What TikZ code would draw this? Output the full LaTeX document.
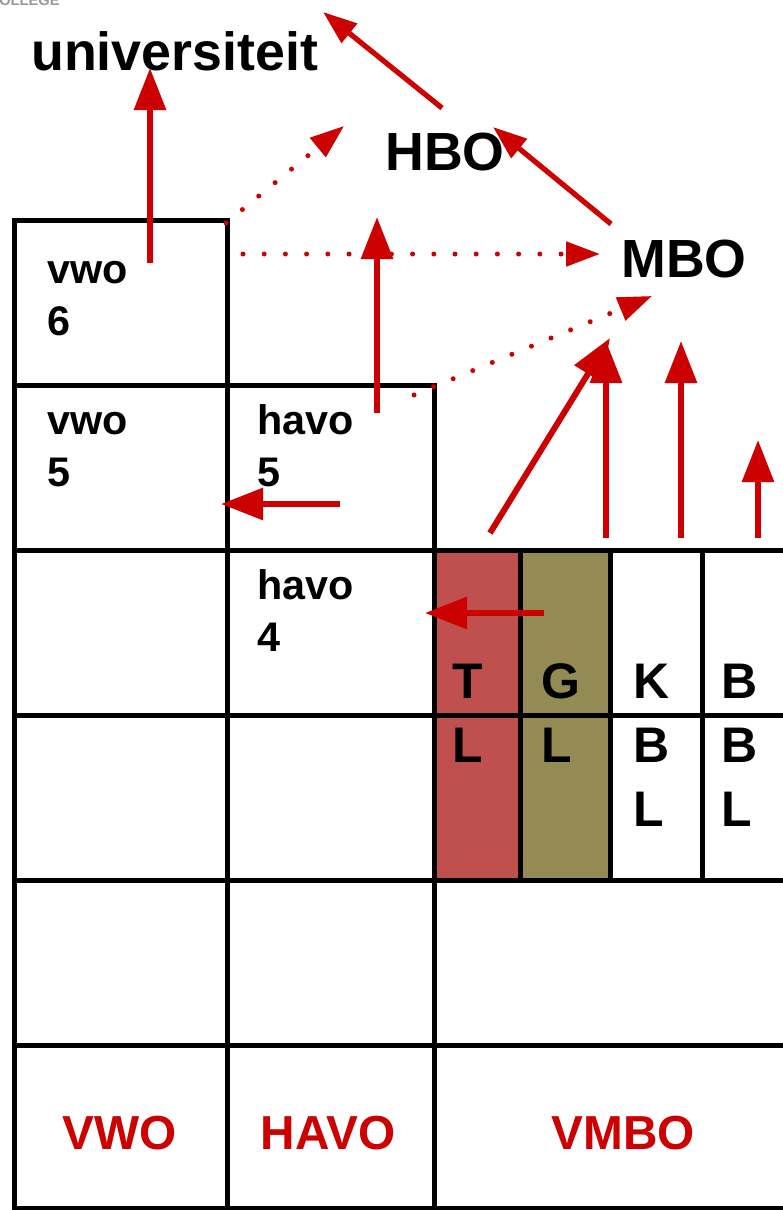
\documentclass[tikz,border=0pt]{standalone}
\usepackage{fontspec}
\setmainfont{Liberation Sans}
\usepackage{xcolor}
\usetikzlibrary{arrows.meta}
\definecolor{arrowred}{HTML}{CC0000}
\definecolor{tlred}{HTML}{C0504D}
\definecolor{glolive}{HTML}{948A54}
\tikzset{
	gridline/.style={line width=3.75pt},
	bigarrow/.style={draw=arrowred, line width=4.5pt, -{Triangle[length=31.5pt,width=23.25pt]}},
	smallarrow/.style={draw=arrowred, line width=3.9pt, -{Triangle[length=25.5pt,width=18pt]}},
	dotarrow/.style={draw=arrowred, line width=3.75pt, line cap=round, dash pattern=on 0pt off 15.9pt, -{Triangle[length=25.5pt,width=18pt]}},
	bigtext/.style={font=\bfseries\fontsize{40.3}{47}\selectfont, inner sep=0pt, anchor=base west},
	celltext/.style={font=\bfseries\fontsize{31}{39}\selectfont, inner sep=0pt, anchor=base west, align=left},
	tracktext/.style={font=\bfseries\fontsize{37.5}{48}\selectfont, inner sep=0pt, anchor=base west, align=left},
	typetext/.style={font=\bfseries\fontsize{35.8}{42}\selectfont, text=arrowred, inner sep=0pt, anchor=base}
}
\begin{document}
\begin{tikzpicture}[x=0.75pt,y=-0.75pt]
			\useasboundingbox (0,0) rectangle (782,1210);
			\node[font=\bfseries\fontsize{11}{13}\selectfont, text=black!40, inner sep=0pt, anchor=base west] (college) at (-1,5) {OLLEGE};
			\fill[tlred] (434,550) rectangle (520,880);
			\fill[glolive] (520,550) rectangle (610,880);
			\draw[gridline] (14,1212) -- (14,220) -- (227,220) -- (227,1212);
			\draw[gridline] (14,385) -- (434,385) -- (434,1212);
			\foreach \y in {550,715,880,1045,1208} \draw[gridline] (14,\y) -- (800,\y);
			\foreach \x in {520,610,702} \draw[gridline] (\x,550) -- (\x,880);
			\node[bigtext] (uni) at (31,70) {universiteit};
			\node[bigtext] (hbo) at (385,170) {HBO};
			\node[bigtext] (mbo) at (621,277) {MBO};
			\node[celltext] (vwo6) at (47,335) {vwo\\6};
			\node[celltext] (vwo5) at (47,486) {vwo\\5};
			\node[celltext] (havo5) at (257,486) {havo\\5};
			\node[celltext] (havo4) at (257,651) {havo\\4};
			\node[tracktext] (tl) at (452,762) {T\\L};
			\node[tracktext] (gl) at (541,762) {G\\L};
			\node[tracktext] (kbl) at (633,826) {K\\B\\L};
			\node[tracktext] (bbl) at (721,826) {B\\B\\L};
			\node[typetext] (vwo) at (120,1149) {VWO};
			\node[typetext] (havo) at (328,1149) {HAVO};
			\node[typetext] (vmbo) at (623,1149) {VMBO};
			\coordinate (vwo6up) at (150,263);
			\coordinate (unitip) at (150,68);
			\coordinate (hboup) at (442,108);
			\coordinate (hbotip) at (323,12);
			\coordinate (mboup) at (611,224);
			\coordinate (mbotip) at (493,127);
			\coordinate (vwo6corner) at (226,223);
			\coordinate (vwohbo) at (344,126);
			\coordinate (vwo6side) at (243,254);
			\coordinate (vwombo) at (600,254);
			\coordinate (havo5up) at (377,413);
			\coordinate (havo5tip) at (377,217);
			\coordinate (havo5corner) at (414,395);
			\coordinate (havombo) at (652,296);
			\coordinate (tlup) at (490,533);
			\coordinate (tltip) at (610,338);
			\coordinate (glup) at (606,538);
			\coordinate (gltip) at (606,341);
			\coordinate (kblup) at (681,538);
			\coordinate (kbltip) at (681,341);
			\coordinate (bblup) at (758,538);
			\coordinate (bbltip) at (758,440);
			\coordinate (havo5left) at (340,504);
			\coordinate (vwo5tip) at (221,504);
			\coordinate (tlleft) at (544,613);
			\coordinate (havo4tip) at (425,613);
			\draw[bigarrow] (vwo6up) -- (unitip);
			\draw[smallarrow] (hboup) -- (hbotip);
			\draw[smallarrow] (mboup) -- (mbotip);
			\draw[dotarrow] (vwo6corner) -- (vwohbo);
			\draw[dotarrow] (vwo6side) -- (vwombo);
			\draw[dotarrow] (havo5corner) -- (havombo);
			\draw[bigarrow] (havo5up) -- (havo5tip);
			\draw[bigarrow] (tlup) -- (tltip);
			\draw[bigarrow] (glup) -- (gltip);
			\draw[bigarrow] (kblup) -- (kbltip);
			\draw[bigarrow] (bblup) -- (bbltip);
			\draw[bigarrow] (havo5left) -- (vwo5tip);
			\draw[bigarrow] (tlleft) -- (havo4tip);
		\end{tikzpicture}
\end{document}
